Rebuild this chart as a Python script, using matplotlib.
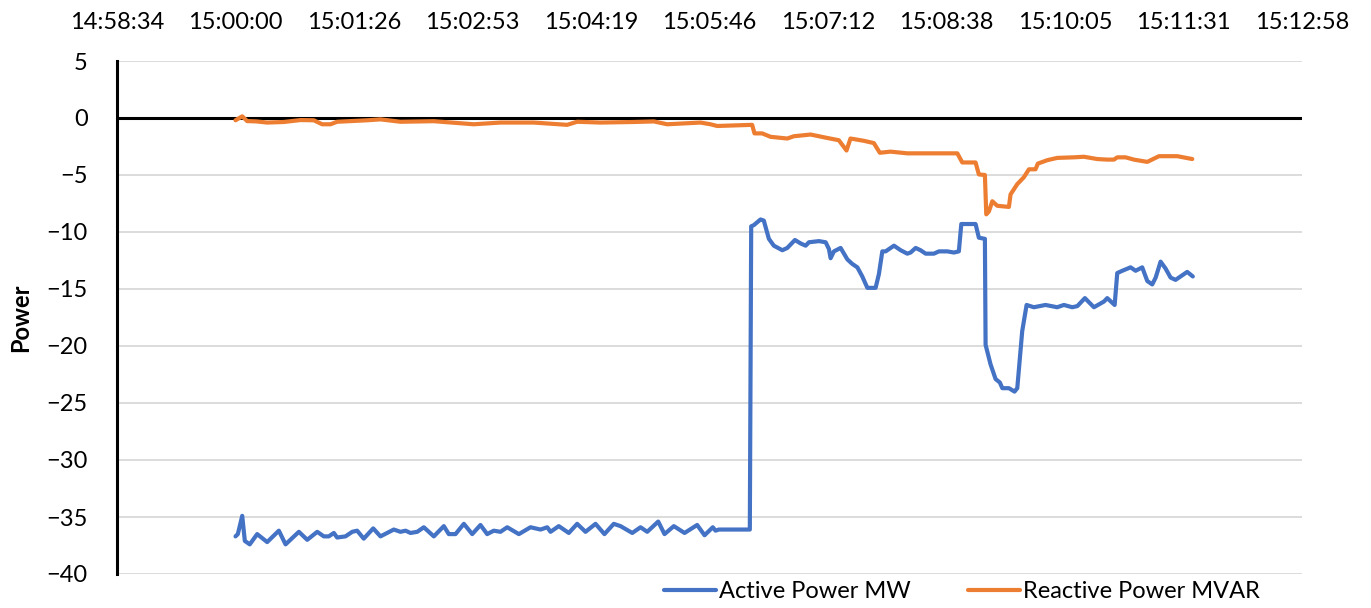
import numpy as np
import matplotlib
matplotlib.use("Agg")
import matplotlib.pyplot as plt
from matplotlib.ticker import FixedLocator, FuncFormatter

plt.rcParams['font.family'] = ['Lato', 'DejaVu Sans']

# seconds after 15:00:00
active_t = [0, 1.7, 4.9, 6.8, 10.4, 15.8, 23.1, 31.6, 36.5, 46.2, 52.3, 59.6, 64.4, 68.0,
            71.7, 74.1, 80.2, 85.1, 88.7, 93.5, 100.4, 105.7, 115.4, 120.3, 124.0, 127.6,
            132.5, 137.3, 144.6, 151.9, 155.5, 160.4, 166.5, 172.6, 178.6, 183.5, 188.3,
            193.2, 198.1, 206.6, 215.1, 222.4, 227.3, 229.7, 235.7, 243.0, 249.1, 255.2,
            262.5, 269.0, 275.8, 280.7, 289.3, 295.3, 300.2, 308.2, 312.8, 319.6, 327.4,
            336.6, 342.0, 348.0, 350.0, 352.4, 375.0, 376.0, 377.9, 382.8, 385.2, 388.9,
            392.5, 398.7, 402.3, 407.9, 412.0, 415.7, 418.1, 425.4, 430.3, 432.7, 433.9,
            436.3, 441.2, 446.1, 449.7, 453.4, 457.0, 460.7, 466.7, 469.1, 471.6, 474.0,
            480.1, 485.0, 489.8, 492.2, 495.9, 499.5, 503.2, 509.2, 512.9, 519.0, 523.8,
            527.4, 529.2, 539.6, 542.0, 546.4, 546.9, 550.5, 554.2, 557.3, 559.1, 563.9,
            568.0, 570.0, 573.6, 576.8, 582.1, 590.6, 599.1, 604.0, 610.1, 613.8, 619.3,
            625.9, 633.2, 635.6, 641.0, 642.9, 646.6, 652.6, 656.3, 661.1, 664.8, 668.4,
            670.9, 674.5, 678.1, 681.8, 685.4, 693.9, 698.0]
active_mw = [-36.7, -36.5, -34.9, -37.1, -37.4, -36.5, -37.2, -36.2, -37.4, -36.3, -37.0,
             -36.3, -36.7, -36.7, -36.4, -36.8, -36.7, -36.3, -36.2, -36.9, -36.0, -36.7,
             -36.1, -36.3, -36.2, -36.4, -36.3, -35.9, -36.7, -35.8, -36.5, -36.5, -35.6,
             -36.5, -35.7, -36.5, -36.2, -36.3, -35.9, -36.5, -35.9, -36.1, -35.9, -36.3,
             -35.8, -36.4, -35.6, -36.3, -35.6, -36.5, -35.6, -35.8, -36.4, -35.9, -36.3,
             -35.4, -36.5, -35.8, -36.4, -35.7, -36.6, -35.9, -36.2, -36.1, -36.1, -9.5,
             -9.4, -8.9, -9.0, -10.6, -11.2, -11.6, -11.4, -10.7, -11.0, -11.2, -10.9,
             -10.8, -10.9, -11.5, -12.3, -11.7, -11.4, -12.4, -12.8, -13.1, -13.9, -14.9,
             -14.9, -13.7, -11.7, -11.7, -11.2, -11.6, -11.9, -11.8, -11.4, -11.6, -11.9,
             -11.9, -11.7, -11.7, -11.8, -11.7, -9.3, -9.3, -10.5, -10.6, -19.9, -21.6,
             -22.9, -23.2, -23.7, -23.7, -24.0, -23.7, -18.7, -16.4, -16.6, -16.4, -16.6,
             -16.4, -16.6, -16.5, -15.8, -16.6, -16.1, -15.8, -16.4, -13.6, -13.4, -13.1,
             -13.4, -13.1, -14.3, -14.6, -14.0, -12.6, -13.2, -14.0, -14.2, -13.5, -13.9]

reactive_t = [0, 4.9, 8.5, 15.3, 23.1, 35.2, 47.4, 57.1, 63.2, 69.3, 74.1, 96.0, 105.7,
              120.3, 144.6, 173.7, 193.2, 217.5, 241.8, 249.1, 266.1, 290.4, 305.0, 314.7,
              339.0, 346.3, 351.2, 376.7, 378.4, 384.0, 390.1, 402.3, 407.1, 419.3, 431.4,
              439.9, 445.5, 448.4, 458.1, 465.4, 469.8, 477.6, 489.8, 526.3, 529.9, 539.6,
              542.0, 546.4, 547.4, 549.3, 551.8, 555.4, 563.9, 565.1, 570.0, 574.8, 578.5,
              583.3, 585.0, 591.9, 599.1, 611.3, 618.6, 628.3, 635.6, 640.5, 642.9, 649.0,
              655.0, 664.8, 673.3, 686.7, 697.6]
reactive_mvar = [-0.2, 0.15, -0.27, -0.3, -0.4, -0.35, -0.18, -0.2, -0.55, -0.55, -0.33,
                 -0.2, -0.12, -0.33, -0.28, -0.55, -0.4, -0.4, -0.6, -0.33, -0.4, -0.35,
                 -0.3, -0.55, -0.4, -0.55, -0.7, -0.6, -1.35, -1.35, -1.65, -1.8, -1.6,
                 -1.45, -1.75, -1.95, -2.85, -1.8, -2.0, -2.2, -3.05, -2.95, -3.1, -3.1,
                 -3.9, -3.9, -4.95, -5.0, -8.45, -8.2, -7.3, -7.7, -7.8, -6.7, -5.8, -5.2,
                 -4.5, -4.5, -4.0, -3.7, -3.5, -3.45, -3.4, -3.6, -3.65, -3.65, -3.45,
                 -3.45, -3.65, -3.85, -3.35, -3.35, -3.6]

# x axis runs 0.624 .. 0.634 day, step 0.001 day (86.4 s)
x_min, x_step, n_ticks = -86.4, 86.4, 11
base_sec = 15 * 3600


def fmt_time(t, pos):
    s = int(round(base_sec + t))
    return f"{s // 3600:02d}:{(s % 3600) // 60:02d}:{s % 60:02d}"


fig = plt.figure(figsize=(13.71, 6.08), dpi=100)
ax = fig.add_axes([117 / 1371, 1 - 574 / 608, 1185 / 1371, 513 / 608])

ax.plot(active_t, active_mw, color="#4472C4", lw=3.0, label="Active Power MW",
        solid_joinstyle="round", solid_capstyle="round")
ax.plot(reactive_t, reactive_mvar, color="#ED7D31", lw=3.0, label="Reactive Power MVAR",
        solid_joinstyle="round", solid_capstyle="round")

ax.set_xlim(x_min, x_min + x_step * (n_ticks - 1))
ax.set_ylim(-40, 5)
ax.xaxis.set_major_locator(FixedLocator([x_min + x_step * k for k in range(n_ticks)]))
ax.xaxis.set_major_formatter(FuncFormatter(fmt_time))
ax.xaxis.tick_top()
ax.set_yticks(np.arange(-40, 6, 5))
ax.tick_params(axis="x", length=0, pad=20, labelsize=17)
ax.tick_params(axis="y", length=0, pad=21, labelsize=17)

ax.grid(axis="y", color="#d9d9d9", lw=1.3)
ax.set_axisbelow(True)
ax.axhline(0, color="black", lw=2.2, zorder=1.5)
for side in ("top", "right", "bottom"):
    ax.spines[side].set_visible(False)
ax.spines["left"].set_linewidth(2.2)

ax.set_ylabel("Power", fontsize=17, fontweight="bold", labelpad=10)

fig.legend(loc="center", bbox_to_anchor=(962 / 1371, 1 - 592 / 608), ncol=2,
           frameon=False, fontsize=17, handlelength=2.2, handletextpad=0.15,
           columnspacing=2.4)

fig.savefig("out.png", dpi=100)
